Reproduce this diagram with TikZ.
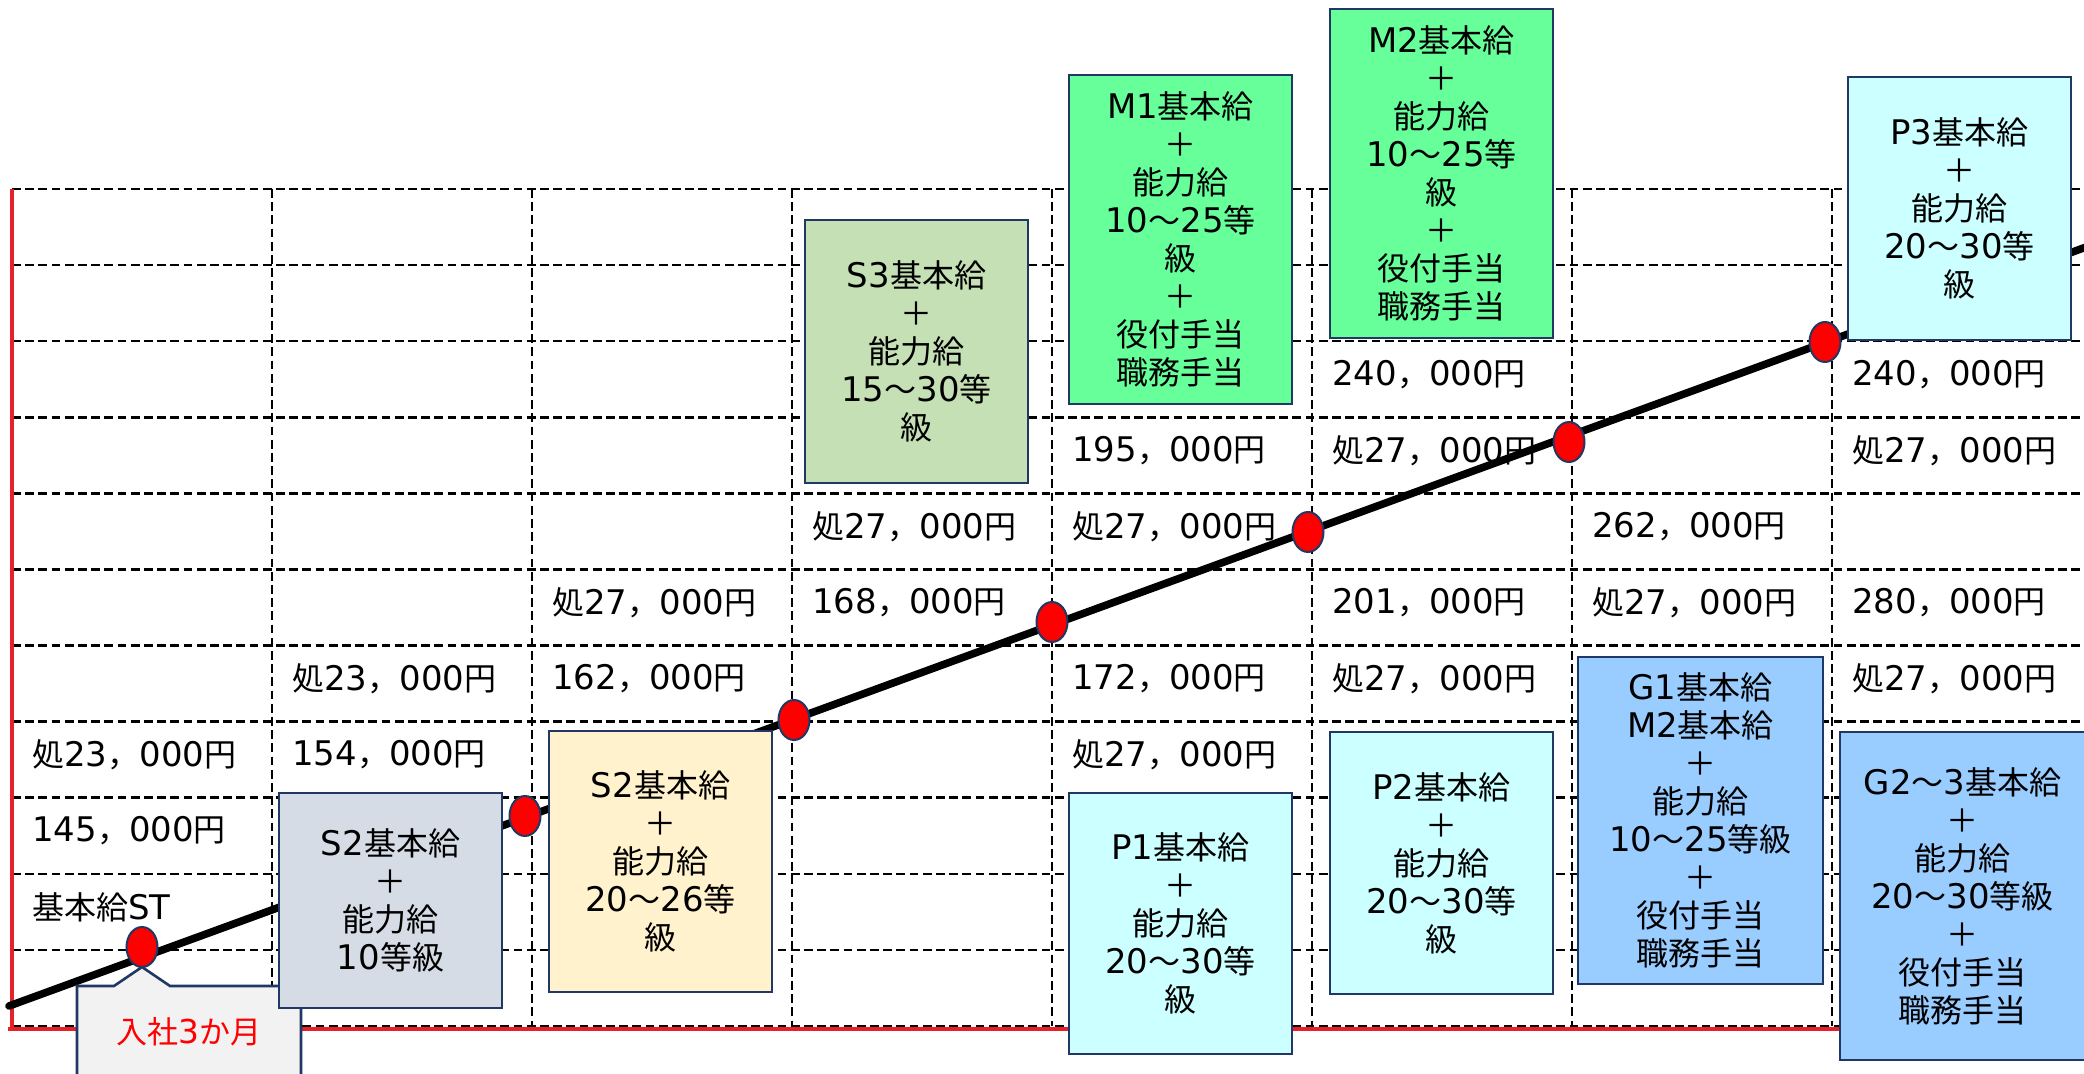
\documentclass[tikz,border=0pt]{standalone}
\usepackage{fontspec}
\usetikzlibrary{shapes.geometric}
\setmainfont[Scale=1.06]{DejaVu Sans}
\newfontfamily\jpfont{Noto Sans CJK JP}
\newfontfamily\latfont[Scale=1.06]{DejaVu Sans}
\newXeTeXintercharclass\JPclass
\newcount\jpc
\jpc="3000
\loop\XeTeXcharclass\jpc=\JPclass\ifnum\jpc<"9FFF \advance\jpc by 1 \repeat
\jpc="FF00
\loop\XeTeXcharclass\jpc=\JPclass\ifnum\jpc<"FFEF \advance\jpc by 1 \repeat
\XeTeXinterchartoks 0 \JPclass={\jpfont}
\XeTeXinterchartoks 4095 \JPclass={\jpfont}
\XeTeXinterchartoks \JPclass 0={\latfont}
\XeTeXinterchartoks 4095 0={\latfont}
\definecolor{bnavy}{HTML}{1F3864}
\definecolor{lred}{HTML}{E8202A}
\definecolor{cgray}{HTML}{D6DCE5}
\definecolor{cyel}{HTML}{FFF2CC}
\definecolor{cgrn}{HTML}{C5E0B4}
\definecolor{cmint}{HTML}{66FF99}
\definecolor{ccyan}{HTML}{CCFFFF}
\definecolor{cblue}{HTML}{99CCFF}
\definecolor{ccall}{HTML}{F2F2F2}
\begin{document}
\XeTeXinterchartokenstate=1
\begin{tikzpicture}[x=0.5pt,y=-0.5pt,
  gridln/.style={black, line width=1.25pt, dash pattern=on 4.4pt off 2.2pt},
  redln/.style={draw=lred, line width=1.6pt},
  panel/.style={draw=bnavy, line width=1.3pt, align=center, inner sep=0pt, font=\fontsize{16}{19}\selectfont, text=black},
  amt/.style={anchor=west, inner sep=0pt, font=\fontsize{16}{19}\selectfont},
  dotnode/.style={ellipse, draw=bnavy, fill=red, line width=1pt, minimum width=15.5pt, minimum height=20pt, inner sep=0pt},
  trend/.style={line width=3.8pt, line cap=round}]
\useasboundingbox (0,0) rectangle (2084,1074);
\clip (0,0) rectangle (2084,1074);
\fill[white] (0,0) rectangle (2084,1074);
% grid
\foreach \k in {0,...,11} { \draw[gridln] (12,{189+76.09*\k}) -- (2084,{189+76.09*\k}); }
\foreach \c in {272,532,...,1832} { \draw[gridln] (\c,189) -- (\c,1026); }
% red axes
\draw[redln] (12,189) -- (12,1029);
\draw[redln] (8,1029) -- (2084,1029);
% amounts
\node[amt] (a1) at (32,755) {処23，000円};
\node[amt] (a2) at (32,831) {145，000円};
\node[amt] (a3) at (32,907) {基本給ST};
\node[amt] (a4) at (292,679) {処23，000円};
\node[amt] (a5) at (292,755) {154，000円};
\node[amt] (a6) at (552,603) {処27，000円};
\node[amt] (a7) at (552,679) {162，000円};
\node[amt] (a8) at (812,527) {処27，000円};
\node[amt] (a9) at (812,603) {168，000円};
\node[amt] (a10) at (1072,451) {195，000円};
\node[amt] (a11) at (1072,527) {処27，000円};
\node[amt] (a12) at (1072,679) {172，000円};
\node[amt] (a13) at (1072,755) {処27，000円};
\node[amt] (a14) at (1332,375) {240，000円};
\node[amt] (a15) at (1332,451) {処27，000円};
\node[amt] (a16) at (1332,603) {201，000円};
\node[amt] (a17) at (1332,679) {処27，000円};
\node[amt] (a18) at (1592,527) {262，000円};
\node[amt] (a19) at (1592,603) {処27，000円};
\node[amt] (a20) at (1852,375) {240，000円};
\node[amt] (a21) at (1852,451) {処27，000円};
\node[amt] (a22) at (1852,603) {280，000円};
\node[amt] (a23) at (1852,679) {処27，000円};
% trend line
\coordinate (ls) at (9,1006);
\coordinate (le) at (2110,238.3);
\draw[trend] (ls) -- (le);
% dots (positions)
\coordinate (p1) at (142,947);
% callout
\draw[fill=ccall, draw=bnavy, line width=1.3pt] (77,986) -- (114,986) -- (142,967) -- (170,986) -- (301,986) -- (301,1082) -- (77,1082) -- cycle;
\node[font=\fontsize{15.5}{18}\selectfont, text=red] (c3m) at (189,1032) {入社3か月};
% boxes
\node[panel, fill=cgray, minimum width=111.5pt, minimum height=107.5pt] (bS2a) at (390.5,900.5) {S2基本給\\＋\\能力給\\10等級};
\node[panel, fill=cyel, minimum width=111.5pt, minimum height=130.5pt] (bS2b) at (660.5,861.5) {S2基本給\\＋\\能力給\\20～26等\\級};
\node[panel, fill=cgrn, minimum width=111.5pt, minimum height=131.5pt] (bS3) at (916.5,351.5) {S3基本給\\＋\\能力給\\15～30等\\級};
\node[panel, fill=cmint, minimum width=111.5pt, minimum height=164.5pt] (bM1) at (1180.5,239.5) {M1基本給\\＋\\能力給\\10～25等\\級\\＋\\役付手当\\職務手当};
\node[panel, fill=cmint, minimum width=111.5pt, minimum height=164.5pt] (bM2) at (1441.5,173.5) {M2基本給\\＋\\能力給\\10～25等\\級\\＋\\役付手当\\職務手当};
\node[panel, fill=ccyan, minimum width=111.5pt, minimum height=131.5pt] (bP3) at (1959.5,208.5) {P3基本給\\＋\\能力給\\20～30等\\級};
\node[panel, fill=ccyan, minimum width=111.5pt, minimum height=130.5pt] (bP1) at (1180.5,923.5) {P1基本給\\＋\\能力給\\20～30等\\級};
\node[panel, fill=ccyan, minimum width=111.5pt, minimum height=131pt] (bP2) at (1441.5,863) {P2基本給\\＋\\能力給\\20～30等\\級};
\node[panel, fill=cblue, minimum width=122.5pt, minimum height=163.5pt] (bG1) at (1700.5,820.5) {G1基本給\\M2基本給\\＋\\能力給\\10～25等級\\＋\\役付手当\\職務手当};
\node[panel, fill=cblue, minimum width=122.5pt, minimum height=164pt] (bG2) at (1962.5,896) {G2～3基本給\\＋\\能力給\\20～30等級\\＋\\役付手当\\職務手当};
% dots
\node[dotnode] (d1) at (p1) {};
\node[dotnode] (d2) at (525,816) {};
\node[dotnode] (d3) at (794,720) {};
\node[dotnode] (d4) at (1052,622) {};
\node[dotnode] (d5) at (1308,532) {};
\node[dotnode] (d6) at (1569,442) {};
\node[dotnode] (d7) at (1825,342) {};
\end{tikzpicture}
\end{document}
